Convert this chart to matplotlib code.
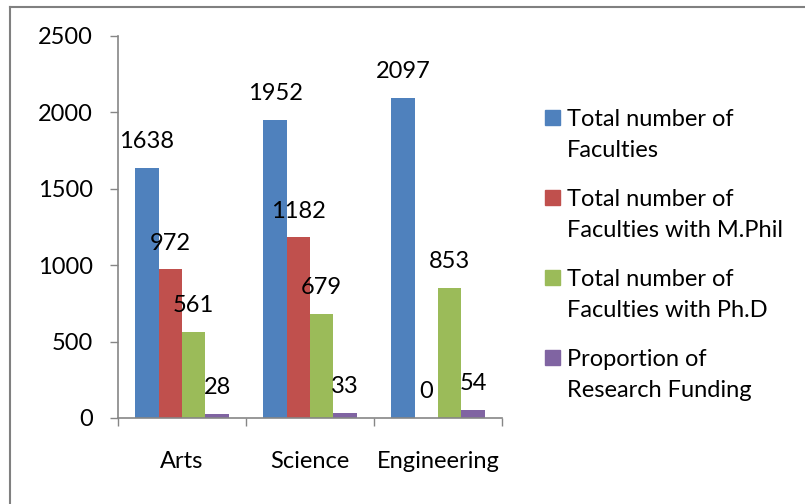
import matplotlib.pyplot as plt
import numpy as np
from matplotlib.lines import Line2D
from matplotlib.patches import Rectangle

# Data
categories = ['Arts', 'Science', 'Engineering']
series_names = ['Total number of\nFaculties',
                'Total number of\nFaculties with M.Phil',
                'Total number of\nFaculties with Ph.D',
                'Proportion of\nResearch Funding']
total_faculties = [1638, 1952, 2097]
mphil_faculties = [972, 1182, 0]
phd_faculties = [561, 679, 853]
research_funding = [28, 33, 54]
y_ticks = [0, 500, 1000, 1500, 2000, 2500]

series = [total_faculties, mphil_faculties, phd_faculties, research_funding]
colors = ['#4F81BD', '#C0504D', '#9BBB59', '#8064A2']

plt.rcParams['font.family'] = ['Lato', 'DejaVu Sans']
W, H = 805, 504
fs = 17
fig = plt.figure(figsize=(W / 100, H / 100), dpi=100)

# axes placement in pixels: left 118, right 502, top 36, bottom 418
ax = fig.add_axes([118 / W, 1 - 418 / H, (502 - 118) / W, (418 - 36) / H])

x = np.arange(len(categories))
bw = 0.1825
for i, (vals, c) in enumerate(zip(series, colors)):
    pos = x + (i - 1.5) * bw
    ax.bar(pos, vals, width=bw, color=c, edgecolor='none')
    for p, v in zip(pos, vals):
        ax.annotate(str(v), (p, v), xytext=(0, 19), textcoords='offset points',
                    ha='center', va='center', fontsize=fs, color='black')

ax.set_xlim(-0.5, len(categories) - 0.5)
ax.set_ylim(0, 2500)
ax.set_yticks(y_ticks)
ax.tick_params(axis='y', labelsize=fs, length=6, width=1, color='#868686', pad=12)
ax.set_xticks(np.arange(len(categories) + 1) - 0.5)
ax.set_xticklabels([])
ax.tick_params(axis='x', length=6, width=1, color='#868686')
ax.set_xticks(x, minor=True)
ax.set_xticklabels(categories, minor=True, fontsize=fs)
ax.tick_params(axis='x', which='minor', length=0, pad=24)
for s in ['top', 'right']:
    ax.spines[s].set_visible(False)
for s in ['left', 'bottom']:
    ax.spines[s].set_color('#868686')
    ax.spines[s].set_linewidth(1.2)

# legend drawn by hand so the marker sits on the first text line
for i, (name, c) in enumerate(zip(series_names, colors)):
    yc = 118 + i * 80
    fig.patches.append(Rectangle((545 / W, 1 - (yc + 7) / H), 15 / W, 15 / H,
                                 transform=fig.transFigure, color=c))
    fig.text(567 / W, 1 - (yc - 9) / H, name, fontsize=fs, va='top', ha='left',
             linespacing=1.6)

# chart frame
fig.add_artist(Line2D([9.5 / W, 9.5 / W], [0, 1 - 6.5 / H], transform=fig.transFigure,
                      color='#808080', lw=1.5))
fig.add_artist(Line2D([9.5 / W, 1], [1 - 6.5 / H, 1 - 6.5 / H], transform=fig.transFigure,
                      color='#808080', lw=1.5))

fig.savefig('out.png', dpi=100)
